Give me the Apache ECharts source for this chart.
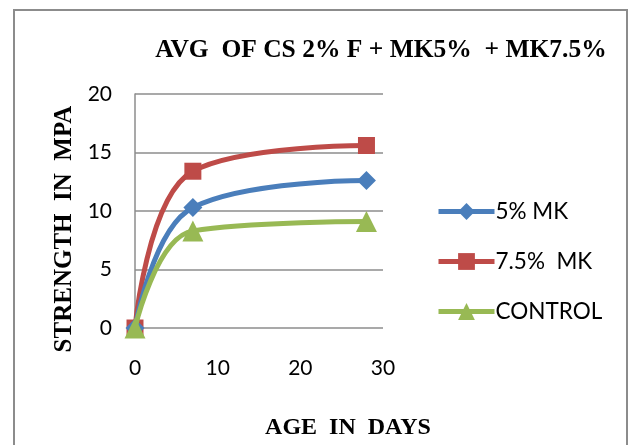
<!DOCTYPE html>
<html>
<head>
<meta charset="utf-8">
<script src="https://cdn.jsdelivr.net/npm/echarts@6/dist/echarts.min.js"></script>
<style>
  html, body { margin: 0; padding: 0; background: #fff; }
  #main { width: 630px; height: 445px; }
</style>
</head>
<body>
<div id="main"></div>
<script>
// data
var days = [0, 7, 28];
var mk5 = [0, 10.3, 12.6];
var mk75 = [0, 13.4, 15.6];
var control = [0, 8.3, 9.1];
var yTicks = [0, 5, 10, 15, 20];
var xTicks = [0, 10, 20, 30];

function pairs(vals) {
    return days.map(function (d, i) { return [d, vals[i]]; });
}

var myChart = echarts.init(document.getElementById('main'));
var tickFont = { fontFamily: 'Lato', fontSize: 21, color: '#000' };
var serifBold = { fontFamily: 'Liberation Serif', fontWeight: 'bold', fontSize: 24, color: '#000' };

myChart.setOption({
    animation: false,
    backgroundColor: '#fff',
    graphic: [{
        type: 'rect',
        shape: { x: 14, y: 10, width: 613, height: 460 },
        style: { fill: 'none', stroke: '#8c8c8c', lineWidth: 2 }
    }],
    title: {
        text: 'AVG  OF CS 2% F + MK5%  + MK7.5%',
        left: 376,
        top: 32,
        textAlign: 'center',
        textStyle: Object.assign({}, serifBold, { fontSize: 25.5 })
    },
    legend: {
        orient: 'vertical',
        left: 431,
        top: 195,
        itemGap: 27,
        itemWidth: 56,
        itemHeight: 21,
        lineStyle: { width: 5 },
        textStyle: Object.assign({ padding: [0, 0, 0, -4] }, tickFont, { fontSize: 22.5 }),
        data: ['5% MK', '7.5%  MK', 'CONTROL']
    },
    grid: { left: 135, top: 94, right: 247, bottom: 117 },
    xAxis: {
        type: 'value',
        min: xTicks[0],
        max: xTicks[xTicks.length - 1],
        interval: 10,
        name: 'AGE  IN  DAYS',
        nameLocation: 'middle',
        nameGap: 88,
        nameTextStyle: Object.assign({ padding: [0, 0, 0, 178] }, serifBold),
        axisLine: { show: false },
        axisTick: { show: false },
        splitLine: { show: false },
        axisLabel: Object.assign({ margin: 30 }, tickFont)
    },
    yAxis: {
        type: 'value',
        min: yTicks[0],
        max: yTicks[yTicks.length - 1],
        interval: 5,
        name: 'STRENGTH  IN  MPA',
        nameLocation: 'middle',
        nameGap: 58,
        nameTextStyle: Object.assign({ padding: [0, 36, 0, 0] }, serifBold, { fontSize: 25 }),
        axisLine: { show: true, lineStyle: { color: '#8c8c8c', width: 1.5 } },
        axisTick: { show: false },
        splitLine: { lineStyle: { color: '#8c8c8c', width: 1.5 } },
        axisLabel: Object.assign({ margin: 23 }, tickFont)
    },
    series: [{
        name: '5% MK',
        type: 'line',
        smooth: 0.4,
        data: pairs(mk5),
        symbol: 'diamond',
        symbolSize: 19,
        color: '#4A7EBB',
        lineStyle: { width: 5 },
        z: 3
    }, {
        name: '7.5%  MK',
        type: 'line',
        smooth: 0.4,
        data: pairs(mk75),
        symbol: 'rect',
        symbolSize: 17,
        color: '#BE4B48',
        lineStyle: { width: 5 },
        z: 2
    }, {
        name: 'CONTROL',
        type: 'line',
        smooth: 0.4,
        data: pairs(control),
        symbol: 'triangle',
        symbolSize: 21,
        color: '#98B954',
        lineStyle: { width: 5 },
        z: 4
    }]
});
</script>
</body>
</html>
